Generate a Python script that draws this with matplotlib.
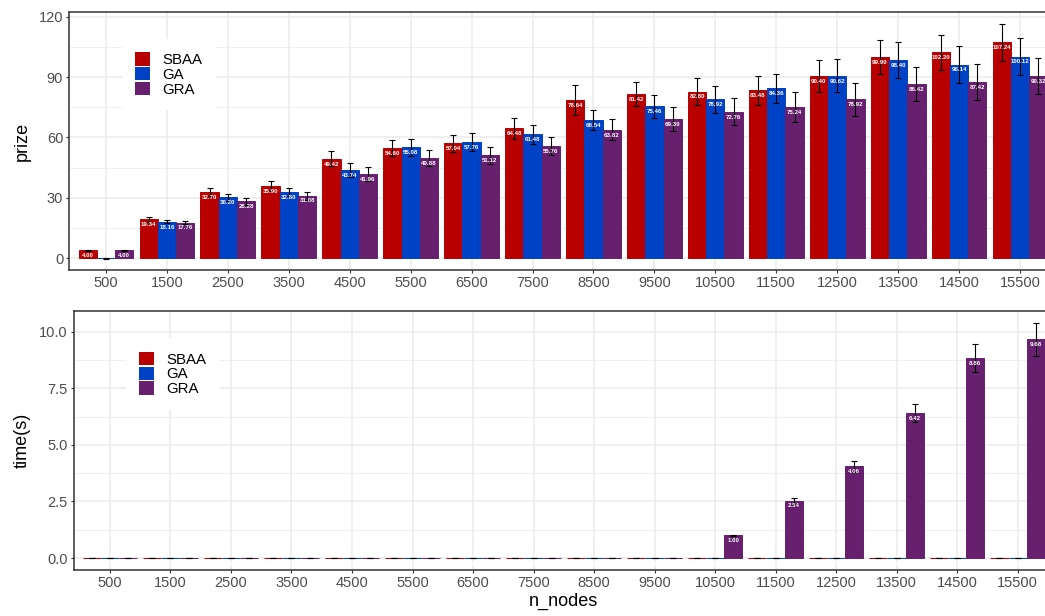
import numpy as np
import matplotlib
matplotlib.use('Agg')
import matplotlib.pyplot as plt
from matplotlib.patches import Patch, Rectangle

plt.rcParams['font.family'] = ['Liberation Sans', 'DejaVu Sans']

n_nodes = ['500', '1500', '2500', '3500', '4500', '5500', '6500', '7500',
           '8500', '9500', '10500', '11500', '12500', '13500', '14500', '15500']
methods = ['SBAA', 'GA', 'GRA']
colors = {'SBAA': '#B80000', 'GA': '#0042C6', 'GRA': '#66206E'}

prize_sbaa = [4.00, 19.34, 32.70, 35.90, 49.42, 54.60, 57.04, 64.48,
              78.64, 81.42, 82.80, 83.48, 90.40, 99.90, 102.20, 107.24]
prize_ga = [0.00, 18.16, 30.20, 32.80, 43.74, 55.08, 57.76, 61.48,
            68.54, 75.46, 78.92, 84.36, 90.62, 98.40, 96.14, 100.12]
prize_gra = [4.00, 17.76, 28.28, 31.08, 41.96, 49.88, 51.12, 55.76,
             63.82, 69.30, 72.76, 75.24, 78.92, 86.42, 87.42, 90.32]
prize_sd_sbaa = [0.2, 1.1, 2.0, 2.4, 3.8, 3.9, 4.2, 5.2, 7.3, 5.9, 6.8, 7.2, 7.9, 8.4, 8.8, 9.2]
prize_sd_ga = [0.1, 0.8, 1.8, 1.9, 3.4, 4.3, 4.6, 4.6, 4.9, 5.8, 6.7, 7.4, 8.1, 9.0, 9.1, 9.3]
prize_sd_gra = [0.2, 0.75, 1.65, 2.05, 3.5, 4.1, 4.3, 4.7, 5.3, 6.0, 6.75, 7.4, 8.1, 8.4, 8.9, 8.9]

time_sbaa = [0.00, 0.00, 0.00, 0.00, 0.00, 0.00, 0.00, 0.00,
             0.00, 0.00, 0.00, 0.00, 0.00, 0.00, 0.00, 0.00]
time_ga = [0.00, 0.00, 0.00, 0.00, 0.00, 0.00, 0.00, 0.00,
           0.00, 0.00, 0.00, 0.00, 0.00, 0.00, 0.00, 0.00]
time_gra = [0.00, 0.00, 0.00, 0.00, 0.00, 0.00, 0.00, 0.01,
            0.01, 0.02, 1.00, 2.54, 4.06, 6.42, 8.86, 9.68]
time_sd_sbaa = [0.0] * 16
time_sd_ga = [0.0] * 16
time_sd_gra = [0.0, 0.0, 0.0, 0.0, 0.0, 0.0, 0.0, 0.0,
               0.0, 0.0, 0.02, 0.13, 0.24, 0.40, 0.63, 0.73]

prize = {'SBAA': (prize_sbaa, prize_sd_sbaa), 'GA': (prize_ga, prize_sd_ga), 'GRA': (prize_gra, prize_sd_gra)}
times = {'SBAA': (time_sbaa, time_sd_sbaa), 'GA': (time_ga, time_sd_ga), 'GRA': (time_gra, time_sd_gra)}

GRID = '#EBEBEB'
DARK = '#333333'
TXT = '#4D4D4D'


def draw_panel(ax, data, ylabel, yticks, ylim, minor, fmt_tick, leg_y):
    x = np.arange(1, len(n_nodes) + 1)
    w = 0.3
    for k, m in enumerate(methods):
        vals, sd = data[m]
        pos = x + (k - 1) * w
        # thin edge in the fill colour so zero-height bars still show as a line
        ax.bar(pos, vals, width=w, color=colors[m], edgecolor=colors[m], linewidth=0.7, zorder=2)
        ax.errorbar(pos, vals, yerr=sd, fmt='none', ecolor='black', elinewidth=0.8,
                    capsize=2.3, capthick=0.8, zorder=3)
        for px, v in zip(pos, vals):
            ax.annotate(f'{v:.2f}', (px, v), xytext=(0, -3.8), textcoords='offset points',
                        ha='center', va='center', fontsize=4.4, color='white',
                        fontweight='bold', zorder=4)
    ax.set_xlim(0.4, len(n_nodes) + 0.6)
    ax.set_ylim(*ylim)
    ax.set_xticks(x)
    ax.set_xticklabels(n_nodes)
    ax.set_yticks(yticks)
    ax.set_yticklabels([fmt_tick(t) for t in yticks])
    ax.set_yticks(minor, minor=True)
    ax.tick_params(axis='both', which='major', direction='out', length=2.5, width=0.8,
                   color=DARK, labelcolor=TXT, labelsize=10.5, pad=2)
    ax.tick_params(axis='y', which='minor', length=0)
    ax.grid(True, which='major', color=GRID, linewidth=1.1, zorder=0)
    ax.grid(True, which='minor', axis='y', color=GRID, linewidth=0.55, zorder=0)
    ax.set_axisbelow(True)
    for s in ax.spines.values():
        s.set_color(DARK)
        s.set_linewidth(1.1)
    ax.set_ylabel(ylabel, fontsize=13, color='black', labelpad=6)
    handles = [Patch(facecolor=colors[m], edgecolor='none', label=m) for m in methods]
    leg = ax.legend(handles=handles, loc='upper left', bbox_to_anchor=(0.053, leg_y),
                    frameon=True, fancybox=False, framealpha=1, edgecolor='none',
                    facecolor='white', fontsize=10.8, handlelength=1.0, handleheight=1.0,
                    handletextpad=0.8, labelspacing=0.0, borderpad=0.9, borderaxespad=0)
    leg.set_zorder(5)


fig = plt.figure(figsize=(10.45, 6.16), dpi=100)
ax1 = fig.add_axes([0.0665, 0.5617, 0.9445, 0.4188])
ax2 = fig.add_axes([0.0705, 0.0747, 0.938, 0.4205])

draw_panel(ax1, prize, 'prize', [0, 30, 60, 90, 120], (-5.8, 122.3),
           [15, 45, 75, 105], lambda t: f'{t:d}', 0.897)
ax1.set_xlabel('n_nodes', fontsize=13, labelpad=8)

draw_panel(ax2, times, 'time(s)', [0.0, 2.5, 5.0, 7.5, 10.0], (-0.53, 10.93),
           [1.25, 3.75, 6.25, 8.75], lambda t: f'{t:.1f}', 0.895)
ax2.set_xlabel('n_nodes', fontsize=13, labelpad=2)

# lower plot's white background hides most of the upper x label, as in the original
ax1.set_zorder(0)
fig.patches.append(Rectangle((0, 0), 1, (616 - 300) / 616, transform=fig.transFigure,
                             facecolor='white', edgecolor='none', zorder=1))
ax2.set_zorder(2)

fig.savefig('out.png', dpi=100)
